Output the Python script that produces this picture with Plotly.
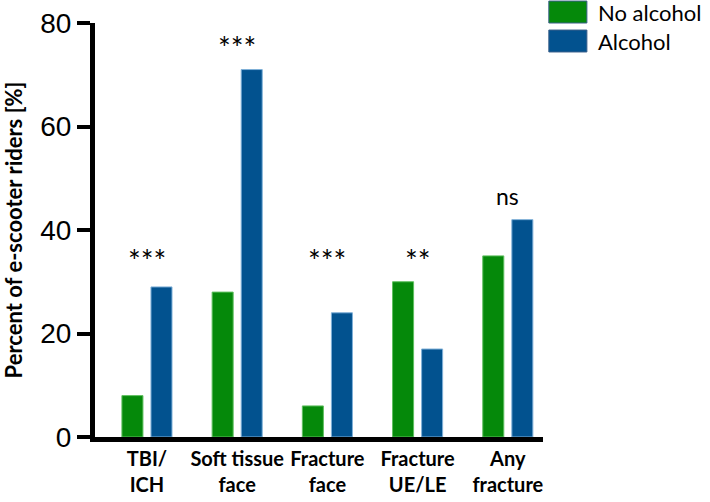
import plotly.graph_objects as go

# bar groups
categories = ["TBI/<br>ICH", "Soft tissue<br>face", "Fracture<br>face", "Fracture<br>UE/LE", "Any<br>fracture"]
no_alcohol = [8, 28, 6, 30, 35]
alcohol = [29, 71, 24, 17, 42]

# significance markers and their heights (data units)
sig_labels = ["***", "***", "***", "**", "ns"]
sig_heights = [35.5, 76.5, 35.5, 35.5, 46.5]

GREEN = "#05890a"
BLUE = "#02528f"

xs = list(range(len(categories)))

fig = go.Figure()
fig.add_trace(go.Bar(x=xs, y=no_alcohol, name="No alcohol",
                     marker=dict(color=GREEN, line=dict(color="#5fbf5f", width=1)),
                     showlegend=False))
fig.add_trace(go.Bar(x=xs, y=alcohol, name="Alcohol",
                     marker=dict(color=BLUE, line=dict(color="#7fb0d8", width=1)),
                     showlegend=False))

for x, lab, h in zip(xs, sig_labels, sig_heights):
    is_ns = lab == "ns"
    fig.add_annotation(x=x, y=h - (0 if is_ns else 1.2), text=lab, showarrow=False,
                       font=dict(family="Lato", size=23 if is_ns else 30, color="black"))

# hand-drawn legend
legend_items = [("No alcohol", GREEN, 1.0, 1.053), ("Alcohol", BLUE, 0.930, 0.983)]
for name, col, y0, y1 in legend_items:
    fig.add_shape(type="rect", xref="paper", yref="paper", x0=1.013, x1=1.098, y0=y0, y1=y1,
                  fillcolor=col, line=dict(color="#3a5f8a", width=1))
    fig.add_annotation(xref="paper", yref="paper", x=1.118, y=(y0 + y1) / 2, text=name,
                       showarrow=False, xanchor="left", yanchor="middle",
                       font=dict(family="Lato", size=22, color="black"))

fig.update_layout(
    width=710, height=502,
    margin=dict(l=95, r=167, t=23, b=65),
    plot_bgcolor="white", paper_bgcolor="white",
    barmode="group", bargap=0.356, bargroupgap=0.276,
    xaxis=dict(range=[-0.576, 4.39], tickvals=xs, ticktext=categories,
               showline=True, linecolor="black", linewidth=5, ticks="",
               showgrid=False, zeroline=False, automargin=False,
               tickfont=dict(family="Lato", size=20, color="black", weight="bold")),
    yaxis=dict(range=[0, 80], tickvals=[0, 20, 40, 60, 80],
               showline=True, linecolor="black", linewidth=5,
               ticks="outside", ticklen=13, tickwidth=4, tickcolor="black",
               showgrid=False, zeroline=False, automargin=False,
               tickfont=dict(family="Liberation Sans", size=28, color="black"),
               title=dict(text="Percent of e-scooter riders [%]", standoff=18,
                          font=dict(family="Lato", size=22, color="black", weight="bold"))),
)

# drop the default body margin so the figure sits at the page corner
fig.write_html("out.html", config={"displayModeBar": False},
               post_script="document.body.style.margin='0';")
